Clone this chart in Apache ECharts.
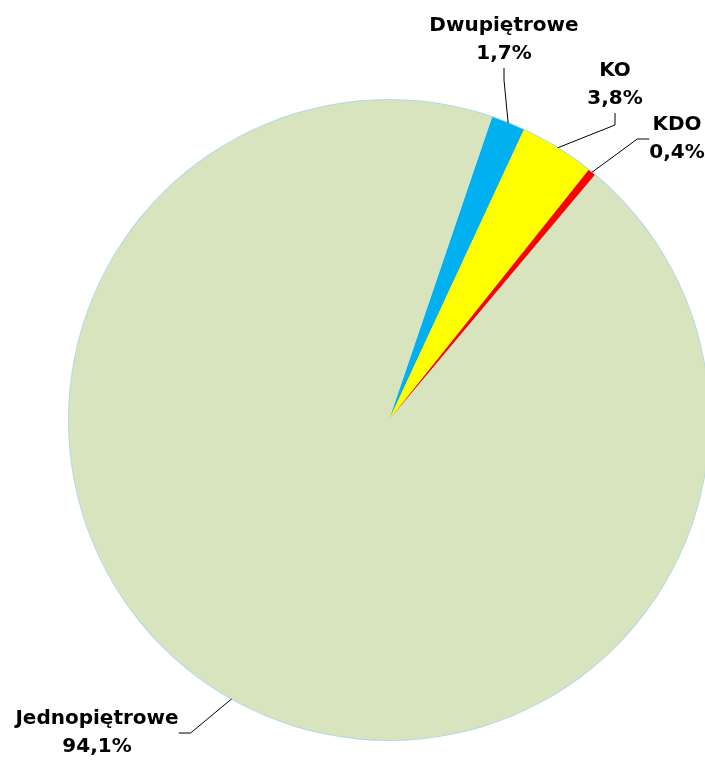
<!DOCTYPE html>
<html>
<head>
<meta charset="utf-8">
<script src="https://cdn.jsdelivr.net/npm/echarts@6/dist/echarts.min.js"></script>
<style>
  html, body { margin: 0; padding: 0; background: #fff; }
  #chart { width: 705px; height: 764px; }
</style>
</head>
<body>
<div id="chart"></div>
<script>
// dane wykresu (kolejnosc zgodnie z ruchem wskazowek zegara)
var categories = ["Dwupiętrowe", "KO", "KDO", "Jednopiętrowe"];
var shares = [1.7, 3.8, 0.4, 94.1];

// kolory wycinkow
var colors = ["#00b0f0", "#ffff00", "#ff0000", "#d7e4bd"];
// polozenie srodka etykiet
var labelPos = [[504, 40], [615, 85], [677, 139], [97, 733]];

var chart = echarts.init(document.getElementById("chart"));

var option = {
  animation: false,
  series: [
    {
      // cienka obwodka kola
      type: "pie",
      silent: true,
      center: [389, 420],
      radius: 321,
      z: 1,
      label: { show: false },
      labelLine: { show: false },
      data: [{ value: 1, itemStyle: { color: "#b4d9e4" } }]
    },
    {
      type: "pie",
      center: [389, 420],
      radius: 320,
      startAngle: 71.2,
      clockwise: true,
      z: 2,
      itemStyle: { borderWidth: 0 },
      data: categories.map(function (c, i) {
        return { name: c, value: shares[i], itemStyle: { color: colors[i] } };
      }),
      label: {
        show: true,
        position: "outside",
        color: "#000",
        fontFamily: "DejaVu Sans",
        fontWeight: "bold",
        fontSize: 20,
        lineHeight: 28,
        align: "center",
        overflow: "none",
        edgeDistance: 0,
        bleedMargin: 0,
        formatter: function (p) {
          return p.name + "\n" + p.value.toFixed(1).replace(".", ",") + "%";
        }
      },
      labelLine: {
        show: true,
        length: 20,
        length2: 12,
        lineStyle: { color: "#000", width: 1 }
      },
      labelLayout: function (params) {
        var pos = labelPos[params.dataIndex];
        return {
          x: pos[0],
          y: pos[1],
          align: "center",
          verticalAlign: "middle"
        };
      }
    }
  ]
};

chart.setOption(option);
</script>
</body>
</html>
